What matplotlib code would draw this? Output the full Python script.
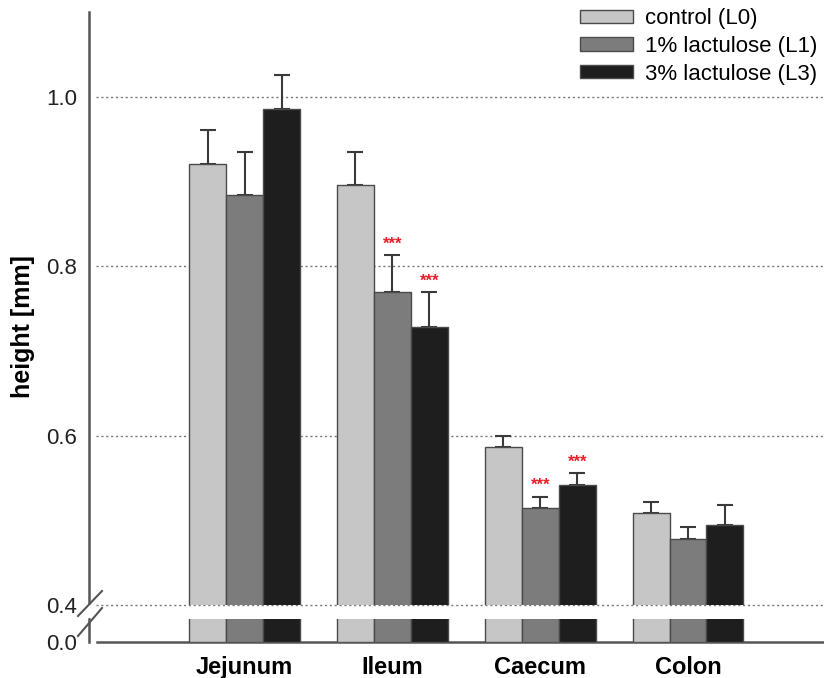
import numpy as np
import matplotlib.pyplot as plt
from matplotlib.lines import Line2D

plt.rcParams['font.family'] = ['Liberation Sans', 'DejaVu Sans']

# segment names and group labels
segments = ['Jejunum', 'Ileum', 'Caecum', 'Colon']
groups = ['control (L0)', '1% lactulose (L1)', '3% lactulose (L3)']

# mean villus height [mm] per group
control = [0.920, 0.896, 0.587, 0.508]
lact1 = [0.884, 0.770, 0.514, 0.478]
lact3 = [0.985, 0.728, 0.542, 0.495]

# standard deviations (upper error bars only)
control_sd = [0.041, 0.039, 0.013, 0.013]
lact1_sd = [0.051, 0.043, 0.014, 0.014]
lact3_sd = [0.041, 0.041, 0.014, 0.023]

# significance marks (group index, segment index)
signif = [(1, 1), (2, 1), (1, 2), (2, 2)]

colors = ['#c6c6c6', '#7c7c7c', '#1e1e1e']
edge = '#4a4a4a'
width = 0.25

fig = plt.figure(figsize=(8.24, 6.78), dpi=100)
ax = fig.add_axes([0.108, 0.1077, 0.892, 0.8746])
ax2 = fig.add_axes([0.108, 0.0531, 0.892, 0.0339], sharex=ax)

x = np.arange(len(segments))
means = [control, lact1, lact3]
sds = [control_sd, lact1_sd, lact3_sd]

for i in range(3):
    pos = x + (i - 1) * width
    for a in (ax, ax2):
        a.bar(pos, means[i], width, color=colors[i], edgecolor=edge,
              linewidth=1.0, label=groups[i], zorder=3)
    ax.errorbar(pos, means[i], yerr=[np.zeros(len(segments)), sds[i]],
                fmt='none', ecolor='#3a3a3a', elinewidth=1.5, capsize=6,
                capthick=1.5, zorder=2)

for g, s in signif:
    xp = x[s] + (g - 1) * width
    top = means[g][s] + sds[g][s]
    ax.text(xp, top + 0.004, '***', color='#e8202a', ha='center',
            va='bottom', fontsize=12, fontweight='bold')

ax.set_xlim(-1.053, 3.92)
ax.set_ylim(0.4, 1.1)
ax2.set_ylim(0.0, 0.026)

# dotted guide lines
for yv in [0.4, 0.6, 0.8, 1.0]:
    ax.axhline(yv, xmin=0.01, color='#777777', linestyle=(0, (1.5, 2)),
               linewidth=1.0, zorder=1, clip_on=False)

ax.set_yticks([0.4, 0.6, 0.8, 1.0])
ax.set_yticklabels(['0.4', '0.6', '0.8', '1.0'])
ax2.set_yticks([0.0])
ax2.set_yticklabels(['0.0'])
for a in (ax, ax2):
    a.tick_params(axis='y', length=0, pad=8.5, labelsize=16, labelcolor='#222222')
    a.spines['top'].set_visible(False)
    a.spines['right'].set_visible(False)
    a.spines['left'].set_color('#555555')
    a.spines['left'].set_linewidth(1.8)

ax.spines['bottom'].set_visible(False)
ax.tick_params(axis='x', which='both', bottom=False, labelbottom=False)
ax.spines['left'].set_bounds(0.402, 1.1)

ax2.spines['bottom'].set_color('#555555')
ax2.spines['bottom'].set_linewidth(1.8)
ax2.spines['bottom'].set_bounds(-1.0, 3.92)
ax2.set_xticks(x)
ax2.set_xticklabels(segments, fontsize=17, fontweight='bold')
ax2.tick_params(axis='x', length=0, pad=10)

ax.set_ylabel('height [mm]', fontsize=18, fontweight='bold')
ax.yaxis.set_label_coords(-0.073, 0.47)

# axis break marks
W, H = 824, 678
for y0, y1 in [(616, 591), (636, 608)]:
    fig.add_artist(Line2D([78 / W, 102 / W], [1 - y0 / H, 1 - y1 / H],
                          color='#555555', linewidth=1.5))

ax.legend(loc='upper right', bbox_to_anchor=(1.018, 1.04), frameon=False,
          fontsize=16, handlelength=2.35, handleheight=0.55,
          handletextpad=0.55, labelspacing=0.3)

fig.savefig('out.png', dpi=100)
